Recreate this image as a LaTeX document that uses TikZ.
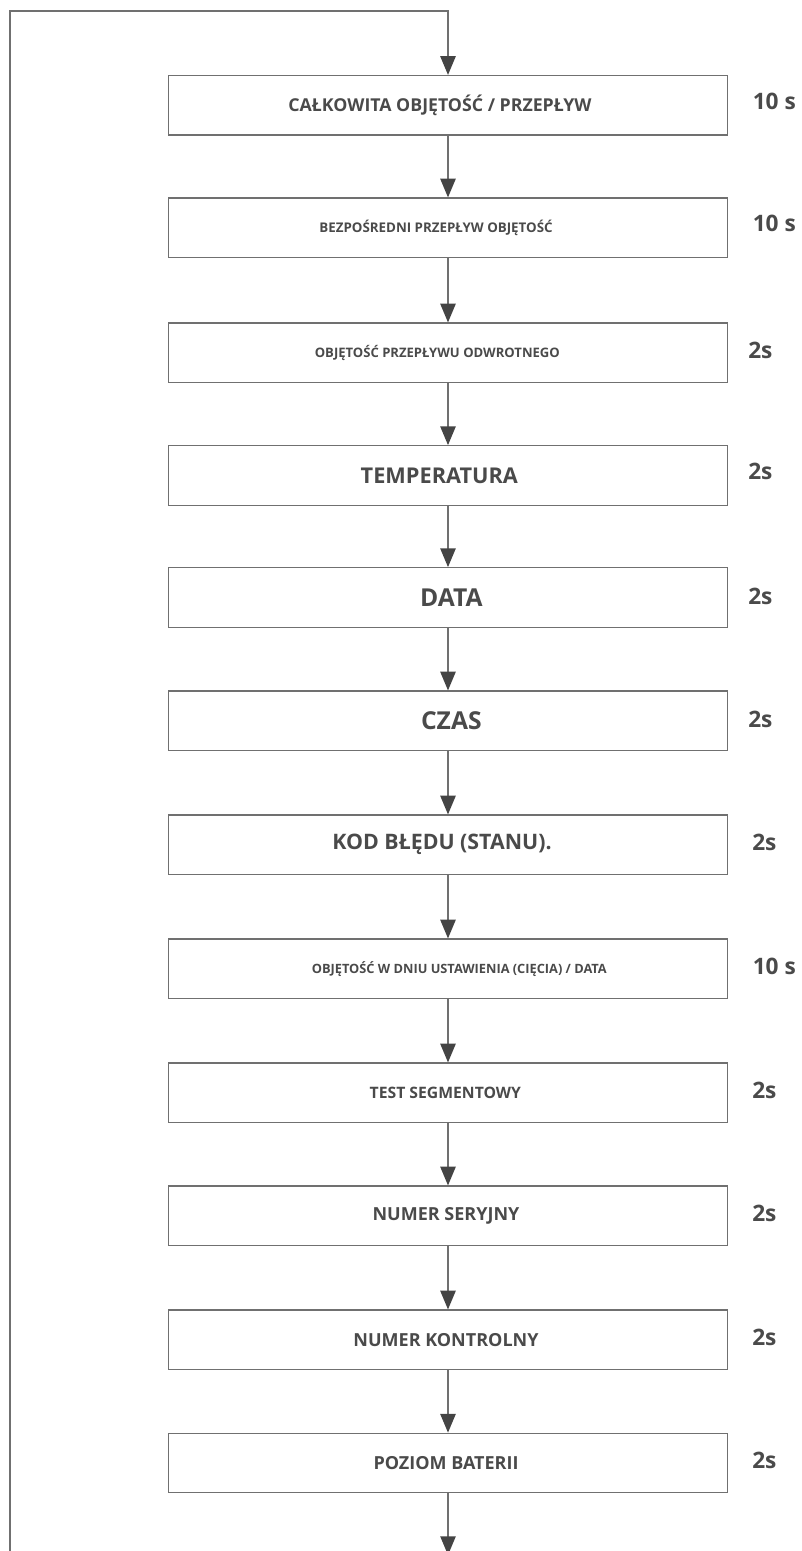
\documentclass[tikz,border=0pt]{standalone}
\usepackage{fontspec}
\setmainfont{Open Sans}
\usepackage{tikz}
\usetikzlibrary{arrows.meta}
\definecolor{linegray}{HTML}{707070}
\definecolor{tipgray}{HTML}{444444}
\definecolor{textgray}{HTML}{4A4A4A}
\tikzset{stepbox/.style={draw=linegray,line width=1pt,minimum width=419pt,minimum height=44.6pt,inner sep=0pt,text=textgray},txt/.style={font=\bfseries\fontsize{#1}{#1}\selectfont},time/.style={anchor=west,inner sep=0pt,text=textgray,txt=17},flow/.style={draw=linegray,line width=1pt,-{Triangle[length=14pt,width=11.5pt,color=tipgray]}}}

\begin{document}
\begin{tikzpicture}[x=.75pt,y=-.75pt]
 \useasboundingbox (0,0) rectangle (801,1551);

 % the labels sit a little off the middle of their boxes
 \node[stepbox,txt=13.3] (b1) at (448,105.3) {CAŁKOWITA OBJĘTOŚĆ / PRZEPŁYW\hspace*{12pt}};
 \node[stepbox,txt=10] (b2) at (448,227.8) {BEZPOŚREDNI PRZEPŁYW OBJĘTOŚĆ\hspace*{18pt}};
 \node[stepbox,txt=9.8] (b3) at (448,352.8) {OBJĘTOŚĆ PRZEPŁYWU ODWROTNEGO\hspace*{16pt}};
 \node[stepbox,txt=16.3] (b4) at (448,475.5) {TEMPERATURA\hspace*{13pt}};
 \node[stepbox,txt=18.5] (b5) at (448,597.5) {\hspace*{5pt}DATA};
 \node[stepbox,txt=18.5] (b6) at (448,720.8) {\hspace*{5pt}CZAS};
 \node[stepbox,txt=16] (b7) at (448,844.8) {KOD BŁĘDU (STANU).\hspace*{9pt}};
 \node[stepbox,txt=9.6] (b8) at (448,968.8) {\hspace*{17pt}OBJĘTOŚĆ W DNIU USTAWIENIA (CIĘCIA) / DATA};
 \node[stepbox,txt=11.8] (b9) at (448,1092.8) {TEST SEGMENTOWY\hspace*{4pt}};
 \node[stepbox,txt=13.5] (b10) at (448,1215.8) {NUMER SERYJNY\hspace*{3pt}};
 \node[stepbox,txt=13.5] (b11) at (448,1339.8) {NUMER KONTROLNY\hspace*{3pt}};
 \node[stepbox,txt=13.5] (b12) at (448,1463) {POZIOM BATERII\hspace*{3pt}};

 % display times, to the right of each step
 \node[time] (t1) at (752.5,101) {10 s};
 \node[time] (t2) at (752.5,223) {10 s};
 \node[time] (t3) at (748,350) {2s};
 \node[time] (t4) at (748,471) {2s};
 \node[time] (t5) at (748,596) {2s};
 \node[time] (t6) at (748,719) {2s};
 \node[time] (t7) at (752,842) {2s};
 \node[time] (t8) at (752.5,966) {10 s};
 \node[time] (t9) at (752,1090) {2s};
 \node[time] (t10) at (752,1213) {2s};
 \node[time] (t11) at (752,1337) {2s};
 \node[time] (t12) at (752,1460) {2s};

 \coordinate (loopbot) at (10,1556);
 \coordinate (looptop) at (10,11);
 \coordinate (out) at (448,1555);

 \foreach \src/\dst in {b1/b2,b2/b3,b3/b4,b4/b5,b5/b6,b6/b7,b7/b8,b8/b9,b9/b10,b10/b11,b11/b12} {\draw[flow] (\src.south)--(\dst.north);}
 \draw[flow] (b12.south)--(out);
 \draw[flow] (loopbot)--(looptop)-|(b1.north);
\end{tikzpicture}
\end{document}
